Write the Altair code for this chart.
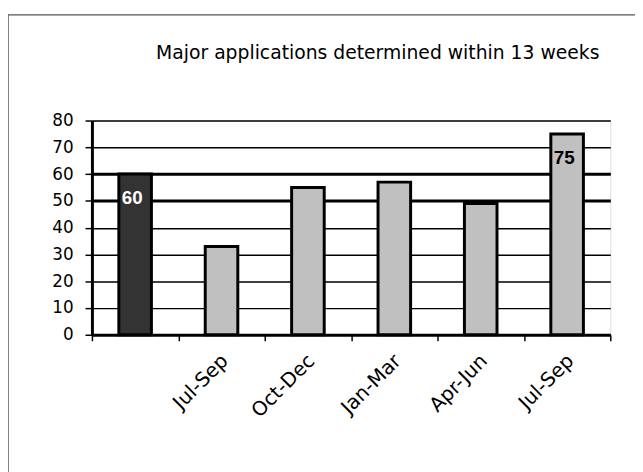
import altair as alt
import pandas as pd

keys = ["k0", "k1", "k2", "k3", "k4", "k5"]
tick_labels = ["", "Jul-Sep", "Oct-Dec", "Jan-Mar", "Apr-Jun", "Jul-Sep"]
values = [60, 33, 55, 57, 49, 75]
kinds = ["target", "quarter", "quarter", "quarter", "quarter", "quarter"]
bar_labels = ["60", "", "", "", "", "75"]
title_text = "Major applications determined within 13 weeks"

df = pd.DataFrame({"key": keys, "value": values, "kind": kinds, "label": bar_labels})

label_expr = "{" + ",".join(f"'{k}':'{t}'" for k, t in zip(keys, tick_labels)) + "}[datum.value]"

x_enc = alt.X(
    "key:N",
    sort=keys,
    title=None,
    scale=alt.Scale(paddingInner=0, paddingOuter=0),
    axis=alt.Axis(
        labelExpr=label_expr,
        labelAngle=-45,
        labelAlign="right",
        labelBaseline="top",
        labelFont="DejaVu Sans",
        labelFontSize=20,
        labelColor="black",
        labelPadding=10,
        labelOffset=-4,
        tickBand="extent",
        tickSize=6,
        tickWidth=1.5,
        tickColor="black",
        domainColor="black",
        domainWidth=3,
        grid=False,
    ),
)
y_enc = alt.Y(
    "value:Q",
    title=None,
    scale=alt.Scale(domain=[0, 80], nice=False),
    axis=alt.Axis(
        values=list(range(0, 81, 10)),
        labelOverlap=False,
        labelFont="DejaVu Sans",
        labelFontSize=17,
        labelColor="black",
        labelPadding=12,
        tickSize=7,
        tickWidth=1.5,
        tickColor="black",
        domainColor="black",
        domainWidth=3,
        grid=True,
        gridColor="black",
        gridOpacity=1,
        gridWidth={"condition": {"test": "datum.value == 60 || datum.value == 50", "value": 3}, "value": 1.5},
    ),
)

color_scale = alt.Scale(domain=["target", "quarter"], range=["#333333", "#c0c0c0"])

base = alt.Chart(df).encode(x=x_enc, y=y_enc)

bars = base.mark_bar(size=33, stroke="black", strokeWidth=3).encode(
    fill=alt.Fill("kind:N", scale=color_scale, legend=None),
)

texts = base.mark_text(
    font="Liberation Sans", fontSize=19, fontWeight="bold", baseline="middle", dy=24, dx=-3
).encode(
    text="label:N",
    color=alt.Color("kind:N", scale=alt.Scale(domain=["target", "quarter"], range=["white", "black"]), legend=None),
)

frame_data = alt.Data(values=[{"title": title_text}])
title_mark = alt.Chart(frame_data).mark_text(
    font="DejaVu Sans", fontSize=19, color="black", align="left", baseline="alphabetic", clip=False
).encode(x=alt.value(65), y=alt.value(-62), text="title:N")
top_line = alt.Chart(frame_data).mark_rule(color="#555555", strokeWidth=1.5, clip=False).encode(
    x=alt.value(-85), x2=alt.value(560), y=alt.value(-107)
)
left_line = alt.Chart(frame_data).mark_rule(color="#555555", strokeWidth=1.5, clip=False).encode(
    x=alt.value(-85), y=alt.value(-107), y2=alt.value(360)
)

chart = alt.layer(bars, texts, title_mark, top_line, left_line).properties(
    width=525,
    height=217,
    padding={"left": 85, "top": 111, "right": 25, "bottom": 136},
    autosize=alt.AutoSizeParams(type="none"),
).configure_view(stroke="black", strokeWidth=3).configure(background="white")

chart.save("out.html", embed_options={"renderer": "svg", "actions": False})
